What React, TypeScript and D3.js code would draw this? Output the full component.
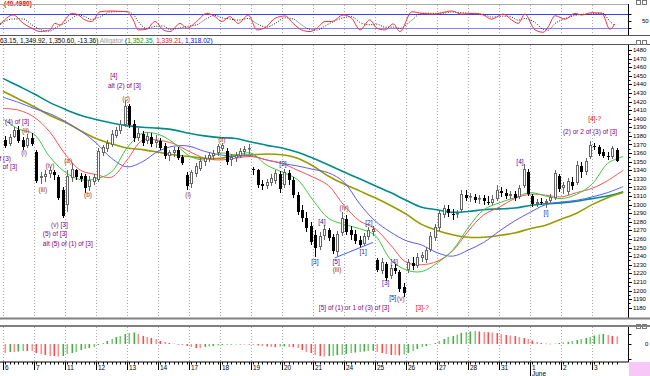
import React from "react";
import * as d3 from "d3";

// ---------- data ----------
const dayLabels = ["6", "7", "11", "12", "13", "14", "17", "18", "19", "20", "21", "24", "25", "26", "27", "28", "31", "1", "2", "3"];
const priceTicks = d3.range(1180, 1481, 10);

const openP = [
  1375, 1371, 1379, 1387, 1375, 1368, 1378,
  1361, 1331, 1332, 1336, 1338, 1332, 1317,
  1300, 1331, 1340, 1333, 1333, 1321, 1326,
  1329, 1360, 1365, 1369, 1380, 1386, 1393,
  1415, 1394, 1378, 1382, 1374, 1379, 1372,
  1374, 1368, 1357, 1360, 1364, 1356, 1335,
  1324, 1336, 1342, 1350, 1353, 1357, 1360,
  1365, 1362, 1352, 1354, 1357, 1361, 1365,
  1341, 1340, 1324, 1322, 1325, 1328, 1336,
  1323, 1337, 1329, 1311, 1294, 1284, 1275,
  1265, 1251, 1264, 1270, 1262, 1245, 1267,
  1283, 1270, 1266, 1259, 1254, 1262, 1268,
  1236, 1223, 1231, 1217, 1226, 1222, 1204,
  1224, 1232, 1229, 1238, 1236, 1247, 1261,
  1273, 1288, 1295, 1289, 1289, 1294, 1311,
  1309, 1309, 1307, 1308, 1303, 1302, 1307,
  1316, 1314, 1310, 1312, 1309, 1322, 1338,
  1310, 1301, 1303, 1302, 1304, 1308, 1333,
  1319, 1315, 1326, 1325, 1345, 1338, 1356,
  1368, 1367, 1361, 1357, 1356, 1363.15,
];
const highP = [
  1380, 1382, 1390, 1392, 1379, 1382, 1383,
  1364, 1338, 1340, 1344, 1340, 1335, 1321,
  1340, 1348, 1342, 1337, 1336, 1333, 1336,
  1366, 1369, 1375, 1387, 1390, 1399, 1421,
  1417, 1399, 1389, 1386, 1385, 1383, 1381,
  1378, 1372, 1364, 1367, 1367, 1358, 1338,
  1340, 1348, 1354, 1358, 1361, 1364, 1371,
  1372, 1366, 1359, 1361, 1366, 1368, 1371,
  1344, 1342, 1329, 1330, 1336, 1340, 1339,
  1342, 1340, 1332, 1315, 1300, 1291, 1280,
  1270, 1268, 1276, 1273, 1266, 1269, 1291,
  1288, 1275, 1270, 1264, 1267, 1274, 1275,
  1238, 1238, 1233, 1230, 1231, 1224, 1209,
  1237, 1239, 1244, 1245, 1251, 1268, 1277,
  1294, 1300, 1300, 1295, 1294, 1317, 1317,
  1314, 1312, 1311, 1311, 1310, 1311, 1323,
  1321, 1318, 1316, 1316, 1323, 1347, 1342,
  1312, 1307, 1308, 1307, 1312, 1340, 1336,
  1326, 1331, 1332, 1351, 1350, 1354, 1374,
  1372, 1369, 1365, 1361, 1368, 1366,
];
const lowP = [
  1366, 1368, 1377, 1372, 1364, 1366, 1368,
  1325, 1324, 1326, 1331, 1329, 1305, 1284,
  1291, 1326, 1329, 1326, 1314, 1316, 1323,
  1326, 1357, 1361, 1367, 1377, 1382, 1390,
  1389, 1373, 1374, 1368, 1371, 1367, 1366,
  1364, 1353, 1351, 1356, 1352, 1346, 1317,
  1319, 1332, 1339, 1345, 1350, 1352, 1357,
  1362, 1346, 1345, 1350, 1354, 1358, 1359,
  1335, 1319, 1317, 1318, 1322, 1324, 1314,
  1319, 1323, 1308, 1288, 1280, 1268, 1253,
  1239, 1247, 1259, 1258, 1243, 1240, 1264,
  1265, 1259, 1254, 1250, 1252, 1259, 1264,
  1222, 1219, 1211, 1213, 1219, 1198, 1193,
  1220, 1224, 1226, 1233, 1232, 1245, 1258,
  1269, 1284, 1286, 1282, 1284, 1290, 1304,
  1303, 1302, 1301, 1300, 1299, 1299, 1304,
  1309, 1307, 1307, 1304, 1307, 1319, 1310,
  1297, 1297, 1299, 1296, 1301, 1305, 1315,
  1312, 1311, 1317, 1323, 1331, 1335, 1353,
  1364, 1357, 1354, 1352, 1353, 1349.92,
];
const closeP = [
  1368, 1379, 1387, 1374, 1367, 1378, 1371,
  1328, 1333, 1336, 1340, 1335, 1308, 1287,
  1333, 1342, 1332, 1330, 1319, 1329, 1332,
  1362, 1367, 1372, 1382, 1387, 1394, 1415,
  1393, 1377, 1383, 1372, 1380, 1371, 1375,
  1366, 1357, 1361, 1364, 1354, 1348, 1322,
  1338, 1345, 1351, 1354, 1358, 1360, 1368,
  1369, 1350, 1356, 1358, 1362, 1365, 1366,
  1340, 1323, 1322, 1326, 1331, 1337, 1318,
  1338, 1329, 1311, 1291, 1284, 1273, 1256,
  1250, 1264, 1272, 1261, 1246, 1266, 1284,
  1268, 1265, 1258, 1253, 1264, 1270, 1272,
  1224, 1233, 1215, 1226, 1223, 1202, 1197,
  1233, 1229, 1239, 1241, 1247, 1264, 1274,
  1290, 1296, 1290, 1288, 1290, 1312, 1308,
  1310, 1305, 1308, 1304, 1302, 1307, 1317,
  1314, 1310, 1312, 1308, 1319, 1342, 1312,
  1301, 1303, 1302, 1304, 1309, 1337, 1318,
  1323, 1328, 1322, 1346, 1338, 1351, 1369,
  1367, 1359, 1357, 1356, 1366, 1350.6,
];

// moving averages sampled every half session
const maTeal = [1447, 1438, 1429, 1419, 1411, 1404, 1399, 1395, 1392, 1390, 1389, 1387, 1383, 1380, 1378, 1377, 1373, 1369, 1366, 1361, 1354, 1346, 1338, 1330, 1322, 1314, 1305, 1297, 1294, 1291, 1292, 1294, 1295, 1296, 1299, 1301, 1302, 1304, 1307, 1310, 1315];
const maOlive = [1432, 1423, 1414, 1404, 1396, 1386, 1377, 1371, 1366, 1364, 1361, 1358, 1356, 1354, 1354, 1357, 1358, 1359, 1358, 1354, 1345, 1333, 1324, 1316, 1308, 1299, 1289, 1277, 1270, 1265, 1262, 1262, 1264, 1267, 1272, 1276, 1283, 1290, 1300, 1308, 1314];
const maBlue = [1425, 1419, 1412, 1406, 1397, 1386, 1372, 1354, 1344, 1350, 1362, 1368, 1368, 1362, 1358, 1356, 1357, 1352, 1348, 1345, 1341, 1337, 1326, 1301, 1281, 1268, 1258, 1253, 1244, 1240, 1247, 1256, 1269, 1281, 1291, 1300, 1303, 1305, 1309, 1314, 1321];
const maRed = [1412, 1410, 1402, 1385, 1359, 1340, 1335, 1332, 1352, 1375, 1375, 1371, 1362, 1354, 1352, 1354, 1356, 1352, 1348, 1340, 1332, 1322, 1299, 1281, 1272, 1253, 1233, 1230, 1234, 1246, 1269, 1288, 1297, 1307, 1312, 1311, 1309, 1314, 1319, 1328, 1340];
const maGreen = [1400, 1388, 1382, 1356, 1338, 1329, 1330, 1338, 1366, 1383, 1382, 1372, 1357, 1352, 1360, 1358, 1360, 1346, 1338, 1329, 1305, 1284, 1277, 1272, 1264, 1236, 1224, 1222, 1232, 1247, 1273, 1294, 1302, 1308, 1314, 1310, 1307, 1312, 1324, 1348, 1356];

// stochastic (bar position, %K, %D)
const stochIdx = [-1.2, 1.8, 4.1, 6.0, 7.9, 10.1, 11.2, 12.4, 13.5, 15.0, 16.5, 18.0, 19.5, 21.4, 23.7, 27.4, 28.9, 30.0, 31.9, 33.8, 35.7, 37.2, 39.5, 41.0, 43.2, 45.5, 47.4, 48.9, 50.7, 52.6, 54.9, 56.8, 59.0, 60.9, 63.2, 65.0, 66.9, 68.8, 70.3, 72.2, 73.7, 76.3, 78.2, 80.1, 82.3, 83.9, 85.7, 87.6, 89.1, 91.8, 94.0, 97.0, 98.5, 100.8, 103.0, 106.0, 107.9, 109.8, 112.4, 114.3, 115.8, 117.3, 119.6, 121.5, 122.6, 124.1, 126.4, 128.6, 130.1, 132.4, 134.7, 136.5, 137.6];
const stochK = [34, 77, 41, 20, 6, 13, 41, 34, 56, 84, 77, 56, 49, 91, 94, 91, 56, 13, 16, 49, 13, 6, 41, 20, 49, 84, 70, 49, 70, 41, 77, 13, 27, 63, 73, 41, 13, 6, 20, 49, 49, 77, 63, 13, 56, 20, 13, 39, 6, 91, 84, 81, 87, 94, 81, 84, 77, 59, 81, 56, 41, 81, 13, 3, 27, 74, 59, 84, 77, 87, 84, 16, 39];
const stochD = [40, 60, 60, 35, 15, 8, 20, 32, 42, 62, 78, 70, 58, 68, 90, 92, 80, 50, 20, 28, 30, 15, 22, 28, 35, 62, 75, 65, 60, 55, 62, 40, 25, 40, 65, 60, 35, 15, 12, 30, 45, 65, 70, 45, 35, 38, 25, 25, 20, 55, 85, 84, 84, 90, 87, 83, 80, 68, 72, 68, 55, 62, 45, 15, 12, 40, 62, 75, 80, 82, 86, 50, 30];

// oscillator histogram, one value per bar
const histo = [
  -9, -8, -8, -7.5, -7, -7, -7, -9, -10, -11,
  -12, -12, -12.5, -12, -10, -9, -8, -6, -5, -4,
  -3, -1, 1, 3, 5, 7, 8, 10, 11, 11.5,
  10, 8, 7, 6, 5, 3, 2, 1, 0.5, -0.5,
  -1, -2, -3, -4, -4.2, -3, -2.5, -2, -1.5, -1,
  -0.8, -0.5, -0.4, -0.3, -0.4, -0.5, -1, -1.5, -2, -2.5,
  -3, -3.2, -2.5, -2.4, -3, -3.2, -4, -6, -8, -9,
  -11, -12, -12.5, -12, -11.8, -11, -10.8, -10, -9, -8.5,
  -8, -7.5, -7, -6.8, -8, -9, -10, -11, -11.2, -11.3,
  -10.5, -9, -7, -5, -3, -2, -0.5, 1, 3, 5,
  7, 8, 9.5, 11, 12, 12.5, 13, 12.5, 12, 11.8,
  11.5, 11, 10, 9, 8.5, 8, 7, 6, 5, 3.5,
  2, 1, 0.5, 0.3, 0.5, 1, 1.5, 2, 3, 4,
  5, 6, 7, 8.5, 9.5, 10, 9, 8, 7.5,
];

// wave labels anchored in (bar, price)
const PUR = "#800080", DRED = "#993333", NAVY = "#1a1aa6", RED = "#ff0000";
const annotations = [
  { t: "(4) of [3]", i: -0.05, p: 1397, c: PUR, a: "start" },
  { t: "(ii)", i: 3.8, p: 1386, c: DRED, a: "start" },
  { t: "(i)", i: 3.6, p: 1360, c: DRED, a: "start" },
  { t: "of (3)", i: 1.3, p: 1354, c: PUR, a: "end" },
  { t: "of [3]", i: 2.7, p: 1344, c: PUR, a: "end" },
  { t: "(iii)", i: 8.5, p: 1317, c: DRED, a: "middle" },
  { t: "(iv)", i: 10.1, p: 1345, c: DRED, a: "middle" },
  { t: "(v)", i: 11.2, p: 1277, c: DRED, a: "middle" },
  { t: "[3]", i: 13.3, p: 1277, c: NAVY, a: "middle" },
  { t: "(5) of [3]", i: 8.5, p: 1266, c: PUR, a: "start" },
  { t: "alt (5) of (1) of [3]", i: 8.5, p: 1255, c: PUR, a: "start" },
  { t: "(a)", i: 14.2, p: 1351, c: DRED, a: "middle" },
  { t: "(b)", i: 18.7, p: 1311, c: DRED, a: "middle" },
  { t: "[4]", i: 23.7, p: 1450, c: PUR, a: "start" },
  { t: "alt (2) of [3]", i: 23.2, p: 1439, c: PUR, a: "start" },
  { t: "(c)", i: 27.3, p: 1423, c: DRED, a: "middle" },
  { t: "(i)", i: 41.3, p: 1311, c: DRED, a: "middle" },
  { t: "(ii)", i: 48.9, p: 1375, c: DRED, a: "middle" },
  { t: "[2]", i: 62.7, p: 1348, c: NAVY, a: "middle" },
  { t: "[3]", i: 69.9, p: 1233, c: NAVY, a: "middle" },
  { t: "[4]", i: 71.5, p: 1280, c: NAVY, a: "middle" },
  { t: "(iv)", i: 76.5, p: 1296, c: DRED, a: "middle" },
  { t: "[5]", i: 74.7, p: 1233, c: NAVY, a: "middle" },
  { t: "(iii)", i: 74.9, p: 1224, c: DRED, a: "middle" },
  { t: "[1]", i: 80.8, p: 1245, c: NAVY, a: "middle" },
  { t: "[2]", i: 82.1, p: 1279, c: NAVY, a: "middle" },
  { t: "[3]", i: 85.9, p: 1209, c: NAVY, a: "middle" },
  { t: "[4]", i: 87.8, p: 1233, c: NAVY, a: "middle" },
  { t: "[5]", i: 87.5, p: 1192, c: NAVY, a: "middle" },
  { t: "(v)", i: 89.3, p: 1190, c: DRED, a: "middle" },
  { t: "[5] of (1) or 1 of (3) of [3]", i: 70.8, p: 1180, c: PUR, a: "start" },
  { t: "[3]-?", i: 92.7, p: 1180, c: RED, a: "start" },
  { t: "[4]", i: 116.2, p: 1350, c: NAVY, a: "middle" },
  { t: "[i]", i: 122.1, p: 1291, c: NAVY, a: "middle" },
  { t: "[4]-?", i: 131.6, p: 1400, c: RED, a: "start" },
  { t: "(2) or 2 of (3) of [3]", i: 125.9, p: 1385, c: PUR, a: "start" },
];
const trendFrom = { i: 74.4, p: 1238 };
const trendTo = { i: 83.0, p: 1256 };

const FF = "'Liberation Sans', Arial, sans-serif";

export default function App() {
  const W = 650, H = 376;
  const AX = 628.5; // right axis
  const x = d3.scaleLinear().domain([0, 140]).range([5.2, 5.2 + 4.43 * 140]);
  const y = d3.scaleLinear().domain([1180, 1480]).range([307.7, 50]);
  const yS = d3.scaleLinear().domain([20, 80]).range([28.3, 14.3]);
  const yH = d3.scaleLinear().domain([0, 10]).range([344, 334]);

  const maIdx = d3.range(maGreen.length).map((p) => p * 3.5 - 0.5);
  const maLine = (vals: number[]) =>
    d3.line<number>().x((_, i) => x(maIdx[i])).y((v) => y(v)).curve(d3.curveCatmullRom.alpha(0.5))(vals) || "";
  const stLine = (vals: number[]) =>
    d3.line<number>().x((_, i) => x(stochIdx[i])).y((v) => yS(v)).curve(d3.curveMonotoneX)(vals) || "";

  const dayX = dayLabels.map((_, d) => Math.round(x(7 * d - 0.5)) + 0.5);

  return (
    <svg width={W} height={H} style={{ position: "absolute", left: 0, top: 0, background: "#fff" }} fontFamily={FF}>
      <defs>
        <clipPath id="cm"><rect x={0} y={45} width={AX} height={272} /></clipPath>
        <clipPath id="ct"><rect x={0} y={5} width={AX} height={30} /></clipPath>
      </defs>
      <rect x={0} y={0} width={W} height={H} fill="#fff" />

      {/* ---------- top stochastic panel ---------- */}
      <text x={4} y={6} fontSize={6.5} fontWeight="bold" fill={RED}>(40.4980)</text>
      <line x1={0} x2={AX} y1={4.5} y2={4.5} stroke="#aaa" />
      {dayX.map((dx, d) => (
        <line key={"gt" + d} x1={dx} x2={dx} y1={5} y2={35} stroke="#aaa" strokeDasharray="1,2" />
      ))}
      <line x1={0} x2={AX} y1={Math.round(yS(80)) + 0.5} y2={Math.round(yS(80)) + 0.5} stroke="#3c3cff" />
      <line x1={0} x2={AX} y1={Math.round(yS(20)) + 0.5} y2={Math.round(yS(20)) + 0.5} stroke="#8080ff" />
      <g clipPath="url(#ct)">
        <path d={stLine(stochD)} fill="none" stroke="#222" strokeWidth={1} strokeDasharray="1,1.5" />
        <path d={stLine(stochK)} fill="none" stroke="#ff3030" strokeWidth={1} />
      </g>
      <line x1={AX} x2={AX} y1={4} y2={35} stroke="#000" />
      {[80, 50, 20].map((v) => (
        <line key={"st" + v} x1={AX} x2={AX + 3} y1={Math.round(yS(v)) + 0.5} y2={Math.round(yS(v)) + 0.5} stroke="#000" />
      ))}
      <text x={642} y={yS(50) + 2} fontSize={6} fill="#000">50</text>
      <line x1={0} x2={W} y1={35.5} y2={35.5} stroke="#555" />

      {/* header text row */}
      <text x={0} y={42.5} fontSize={6.5} fill="#000">
        <tspan>63.15, 1,349.92, 1,350.60, -13.36)</tspan>
        <tspan fill="#9a9a9a"> Alligator </tspan>
        <tspan>(</tspan>
        <tspan fill="#009900">1,352.35, </tspan>
        <tspan fill="#ff0000">1,339.21, </tspan>
        <tspan fill="#0000ff">1,318.02</tspan>
        <tspan>)</tspan>
      </text>
      <line x1={0} x2={W} y1={44.5} y2={44.5} stroke="#555" />
      {[3, 43, 327].map((iy) => (
        <g key={"ic" + iy}>
          <rect x={636.5} y={iy - 2.5} width={4} height={4} fill="#fff" stroke="#777" />
          <rect x={642.5} y={iy - 2.5} width={4} height={4} fill="#fff" stroke="#777" />
        </g>
      ))}

      {/* ---------- main price panel ---------- */}
      {dayX.map((dx, d) => (
        <line key={"gm" + d} x1={dx} x2={dx} y1={45} y2={317} stroke="#aaa" strokeDasharray="1,2" />
      ))}
      <g clipPath="url(#cm)">
        <path d={maLine(maTeal)} fill="none" stroke="#008b8b" strokeWidth={1.6} />
        <path d={maLine(maOlive)} fill="none" stroke="#9a9a00" strokeWidth={1.6} />
        <path d={maLine(maBlue)} fill="none" stroke="#5a5aff" strokeWidth={1} />
        <path d={maLine(maRed)} fill="none" stroke="#ff5050" strokeWidth={1} />
        <path d={maLine(maGreen)} fill="none" stroke="#3cc83c" strokeWidth={1} />
        {closeP.map((c, i) => {
          const o = openP[i], h = highP[i], l = lowP[i];
          const cx = Math.round(x(i));
          const up = c >= o;
          const yTop = Math.round(y(Math.max(o, c)));
          const yBot = Math.round(y(Math.min(o, c)));
          const bh = Math.max(1, yBot - yTop);
          return (
            <g key={"c" + i}>
              <line x1={cx + 0.5} x2={cx + 0.5} y1={Math.round(y(h))} y2={Math.round(y(l))} stroke={up ? "#666" : "#000"} />
              {up ? (
                <rect x={cx - 0.5} y={yTop + 0.5} width={2} height={Math.max(bh - 1, 0.5)} fill="#fff" stroke="#666" />
              ) : (
                <rect x={cx - 1} y={yTop} width={3} height={bh} fill="#000" />
              )}
            </g>
          );
        })}
        <line x1={x(trendFrom.i)} y1={y(trendFrom.p)} x2={x(trendTo.i)} y2={y(trendTo.p)} stroke="#4060ff" strokeWidth={1} />
        {annotations.map((an, k) => (
          <text key={"a" + k} x={x(an.i)} y={y(an.p) + 2.3} fontSize={6.5} fill={an.c} textAnchor={an.a as any}>
            {an.t}
          </text>
        ))}
      </g>
      <line x1={AX} x2={AX} y1={45} y2={318} stroke="#000" />
      {d3.range(1180, 1481, 5).map((v) => (
        <line key={"mt" + v} x1={AX} x2={AX + (v % 10 === 0 ? 3.5 : 2)} y1={Math.round(y(v)) + 0.5} y2={Math.round(y(v)) + 0.5} stroke="#000" />
      ))}
      {priceTicks.map((v) => (
        <text key={"ml" + v} x={633} y={y(v) + 2.1} fontSize={6} fill="#000">{String(v)}</text>
      ))}
      <line x1={0} x2={W} y1={318.5} y2={318.5} stroke="#808080" strokeWidth={2} />

      {/* ---------- bottom oscillator panel ---------- */}
      <line x1={0} x2={W} y1={326} y2={326} stroke="#808080" strokeWidth={2} />
      {dayX.map((dx, d) => (
        <line key={"gb" + d} x1={dx} x2={dx} y1={327} y2={361} stroke="#aaa" strokeDasharray="1,2" />
      ))}
      {histo.map((v, i) => {
        const prev = i > 0 ? histo[i - 1] : v;
        const rising = v > prev || (i === 0 ? false : v === prev && false);
        const col = rising ? (i % 2 ? "#44b044" : "#7cc87c") : (i % 2 ? "#ff4a4a" : "#ff8c8c");
        const y0 = yH(0), y1 = yH(v);
        return (
          <rect key={"h" + i} x={Math.round(x(i)) - 0.5} y={Math.min(y0, y1)} width={1.6} height={Math.max(0.6, Math.abs(y1 - y0))} fill={col} />
        );
      })}
      <line x1={AX} x2={AX} y1={327} y2={362} stroke="#000" />
      {[10, 0, -15].map((v) => (
        <line key={"bt" + v} x1={AX} x2={AX + 3} y1={Math.round(yH(v)) + 0.5} y2={Math.round(yH(v)) + 0.5} stroke="#000" />
      ))}
      <text x={645} y={yH(0) + 2} fontSize={6} fill="#000">0</text>

      {/* ---------- x axis ---------- */}
      <line x1={0} x2={AX} y1={362} y2={362} stroke="#000" />
      {closeP.map((_, i) => (
        <line key={"xt" + i} x1={Math.round(x(i)) + 0.5} x2={Math.round(x(i)) + 0.5} y1={362} y2={364.5} stroke="#000" />
      ))}
      {dayLabels.map((lab, d) => (
        <g key={"xl" + d}>
          <line x1={dayX[d]} x2={dayX[d]} y1={362} y2={370} stroke="#000" />
          <text x={dayX[d] + 1.5} y={369.5} fontSize={6.5} fill="#000">{lab}</text>
        </g>
      ))}
      <line x1={dayX[17]} x2={dayX[17]} y1={362} y2={376} stroke="#000" />
      <text x={dayX[17] + 1.5} y={375.5} fontSize={6.5} fill="#000">June</text>
      <rect x={629} y={362} width={21} height={14} fill="#f7c8f7" />
    </svg>
  );
}
